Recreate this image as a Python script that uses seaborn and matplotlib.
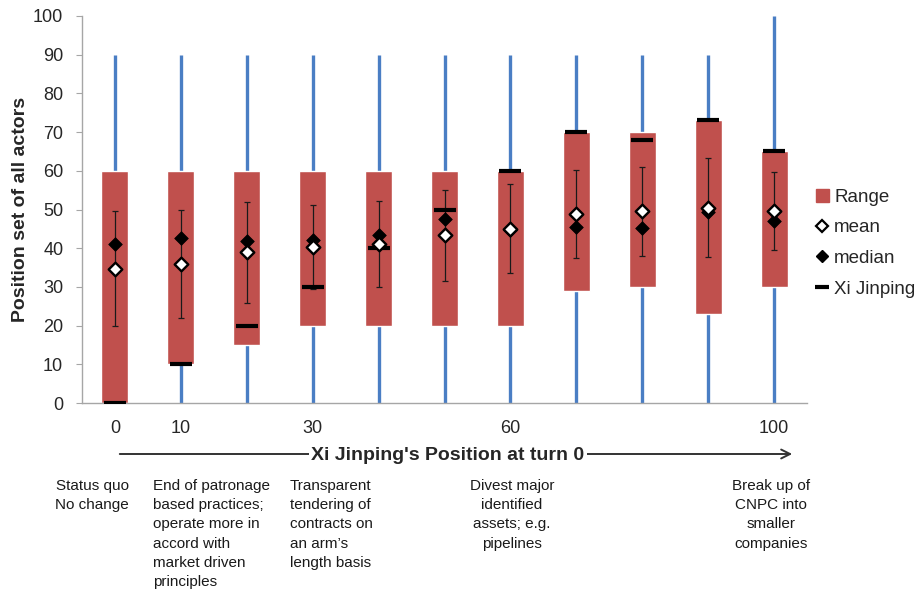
import matplotlib
matplotlib.use("Agg")
import matplotlib.pyplot as plt
from matplotlib.lines import Line2D
from matplotlib.patches import Patch
import numpy as np
import pandas as pd
import seaborn as sns

# Xi Jinping's starting position for each simulation run
positions = [0, 10, 20, 30, 40, 50, 60, 70, 80, 90, 100]
shown_ticks = {0: "0", 10: "10", 30: "30", 60: "60", 100: "100"}

# Range of positions held by all actors at the end of the run
range_low = [0, 10, 15, 20, 20, 20, 20, 29, 30, 23, 30]
range_high = [60, 60, 60, 60, 60, 60, 60, 70, 70, 73, 65]

# Full scale spanned by the actors' stated positions
scale_low = [0, 0, 0, 0, 0, 0, 0, 0, 0, 0, 0]
scale_high = [90, 90, 90, 90, 90, 90, 90, 90, 90, 90, 100]

mean_pos = [34.7, 35.9, 38.9, 40.3, 41.2, 43.3, 45.0, 48.8, 49.5, 50.5, 49.7]
std_pos = [14.8, 14.0, 13.0, 10.9, 11.1, 11.7, 11.5, 11.3, 11.5, 12.8, 10.1]
median_pos = [41.0, 42.7, 41.8, 42.2, 43.3, 47.6, 44.8, 45.6, 45.1, 49.4, 47.1]
xi_final = [0, 10, 20, 30, 40, 50, 60, 70, 68, 73, 65]

policy_notes = [
    "Status quo\nNo change",
    "End of patronage\nbased practices;\noperate more in\naccord with\nmarket driven\nprinciples",
    "Transparent\ntendering of\ncontracts on\nan arm\u2019s\nlength basis",
    "Divest major\nidentified\nassets; e.g.\npipelines",
    "Break up of\nCNPC into\nsmaller\ncompanies",
]

df = pd.DataFrame({
    "idx": np.arange(len(positions)),
    "low": range_low,
    "high": range_high,
    "mean": mean_pos,
    "std": std_pos,
    "median": median_pos,
    "xi": xi_final,
})

sns.set_style("white")
plt.rcParams["font.family"] = ["Liberation Sans", "DejaVu Sans"]

RED = "#C0504D"
BLUE = "#4A7EC4"
GREY = "#A6A6A6"

fig = plt.figure(figsize=(9.23, 5.95), dpi=100)
W, H = 923, 595
ax = fig.add_axes([82 / W, 1 - 403 / H, (807 - 82) / W, (403 - 16) / H])

# scale lines behind everything
ax.vlines(df["idx"], scale_low, scale_high, color=BLUE, lw=2.4, zorder=1)

# floating range bars
ax.bar(df["idx"], df["high"] - df["low"], bottom=df["low"], width=0.41,
       color=RED, zorder=2)

# mean +/- one standard deviation
ax.errorbar(df["idx"], df["mean"], yerr=df["std"], fmt="none", ecolor="#1a1a1a",
            elinewidth=0.9, capsize=2.5, capthick=0.9, zorder=3)

# Xi Jinping's final position, then median and mean markers
sns.scatterplot(data=df, x="idx", y="xi", marker="_", s=240, color="black",
                linewidth=3.0, ax=ax, zorder=4, legend=False)
sns.scatterplot(data=df, x="idx", y="median", marker="D", s=48, color="black",
                edgecolor="black", ax=ax, zorder=5, legend=False)
sns.scatterplot(data=df, x="idx", y="mean", marker="D", s=48, facecolor="white",
                edgecolor="black", linewidth=1.7, ax=ax, zorder=6, legend=False)

ax.set_xlim(-0.5, len(positions) - 0.5)
ax.set_ylim(0, 100)
ax.set_yticks(np.arange(0, 101, 10))
ax.tick_params(axis="y", labelsize=13, length=4.5, color=GREY, direction="out",
               left=True, pad=9)
ax.set_xticks([i for i, p in enumerate(positions) if p in shown_ticks])
ax.set_xticklabels([shown_ticks[p] for p in positions if p in shown_ticks])
ax.tick_params(axis="x", labelsize=13, length=0, pad=12)
ax.set_xlabel("")
ax.set_ylabel("Position set of all actors", fontsize=14, fontweight="bold",
              labelpad=3)
for side in ("top", "right"):
    ax.spines[side].set_visible(False)
for side in ("left", "bottom"):
    ax.spines[side].set_color(GREY)
    ax.spines[side].set_linewidth(1.0)

handles = [
    Patch(facecolor=RED, edgecolor=RED),
    Line2D([], [], marker="D", ls="none", markerfacecolor="white",
           markeredgecolor="black", markeredgewidth=1.6, markersize=6),
    Line2D([], [], marker="D", ls="none", color="black", markersize=6),
    Line2D([], [], marker="_", ls="none", color="black", markersize=10,
           markeredgewidth=3),
]
fig.legend(handles, ["Range", "mean", "median", "Xi Jinping"],
           loc="upper left", bbox_to_anchor=(808 / W, 1 - 181 / H),
           frameon=False, fontsize=13.5, handlelength=0.7, handletextpad=0.3,
           labelspacing=0.72, borderaxespad=0)

# axis caption with arrow
ax.annotate("", xy=(795 / W, 1 - 454 / H), xytext=(117 / W, 1 - 454 / H),
            xycoords="figure fraction", textcoords="figure fraction",
            arrowprops=dict(arrowstyle="->", color="#333333", lw=1.4,
                            mutation_scale=16))
fig.text(448 / W, 1 - 455 / H, "Xi Jinping's Position at turn 0",
         ha="center", va="center", fontsize=14, fontweight="bold",
         bbox=dict(facecolor="white", edgecolor="none", pad=1.5))

# policy descriptions under the scale: (x pixel, alignment)
note_layout = [(92, "center"), (153, "left"), (290, "left"),
               (512, "center"), (771, "center")]
for (px, align), txt in zip(note_layout, policy_notes):
    fig.text(px / W, 1 - 479 / H, txt, ha=align, va="top", fontsize=11,
             linespacing=1.47, multialignment=align, color="#1a1a1a")

fig.savefig("out.png", dpi=100)
